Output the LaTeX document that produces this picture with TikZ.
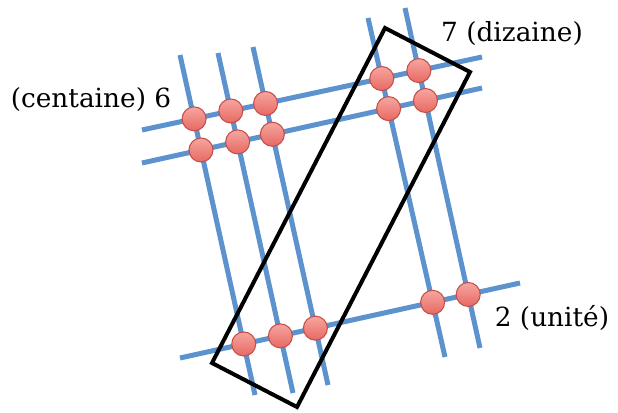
\documentclass[tikz,border=0pt]{standalone}
\usepackage{fontspec}
\setmainfont{DejaVu Serif}
\usepackage{xcolor}
\usepackage{tikz}
\definecolor{rodblue}{RGB}{92,146,206}
\definecolor{beadred}{RGB}{232,104,98}
\definecolor{beadtop}{RGB}{246,166,160}
\definecolor{beadrim}{RGB}{196,78,72}

\begin{document}
\begin{tikzpicture}[x=0.02cm,y=-0.02cm,
  rod/.style={rodblue,line width=0.1cm},
  bead/.style={circle,draw=beadrim,line width=0.6pt,top color=beadtop,
    bottom color=beadred,minimum size=0.48cm,inner sep=0pt},
  frame/.style={black,line width=0.08cm,line join=miter},
  lbl/.style={font=\fontsize{15}{18}\selectfont,inner sep=0pt},
]
  \useasboundingbox (0,0) rectangle (618,412);

  % steep rods (3 then 2)
  \coordinate (a1) at (180,55);  \coordinate (a2) at (255,395);
  \coordinate (b1) at (218,53);  \coordinate (b2) at (293,393);
  \coordinate (c1) at (253,47);  \coordinate (c2) at (328,385);
  \coordinate (d1) at (368,18);  \coordinate (d2) at (445,357);
  \coordinate (e1) at (405,8);   \coordinate (e2) at (480,348);
  % flat rods (2 then 1)
  \coordinate (f1) at (142,130); \coordinate (f2) at (482,57);
  \coordinate (g1) at (142,163); \coordinate (g2) at (482,88);
  \coordinate (h1) at (180,358); \coordinate (h2) at (520,283);

  \foreach \r in {a,b,c,d,e,f,g,h}
    \draw[rod] (\r1) -- (\r2);

  % beads at every crossing
  \foreach \s in {a,b,c,d,e}
    \foreach \t in {f,g,h}
      \node[bead] (\s\t) at (intersection of \s1--\s2 and \t1--\t2) {};

  % tens box
  \coordinate (k1) at (385,28);
  \coordinate (k2) at (470,72);
  \coordinate (k3) at (297,407);
  \coordinate (k4) at (212,363);
  \draw[frame] (k1) -- (k2) -- (k3) -- (k4) -- cycle;

  \node[lbl] (dizaine) at (512,34) {7 (dizaine)};
  \node[lbl] (centaine) at (91,100) {(centaine) 6};
  \node[lbl] (unite) at (552,318) {2 (unité)};
\end{tikzpicture}
\end{document}
